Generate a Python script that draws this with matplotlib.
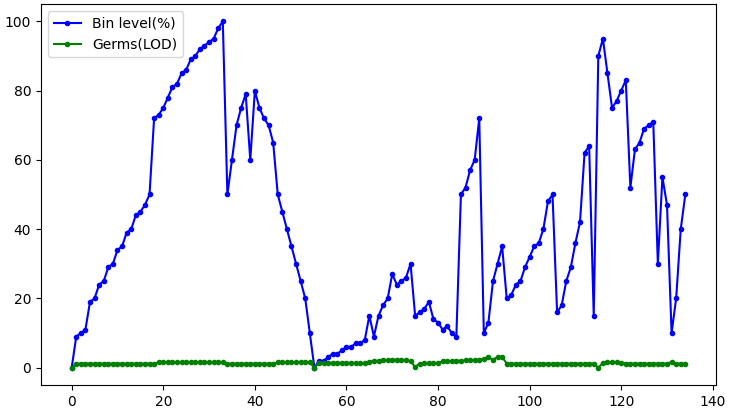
import matplotlib
matplotlib.use("Agg")
import matplotlib.pyplot as plt
import numpy as np

bin_level = [0, 9, 10, 11, 19, 20, 24, 25, 29, 30,
             34, 35, 39, 40, 44, 45, 47, 50, 72, 73,
             75, 78, 81, 82, 85, 86, 89, 90, 92, 93,
             94, 95, 98, 100, 50, 60, 70, 75, 79, 60,
             80, 75, 72, 70, 65, 50, 45, 40, 35, 30,
             25, 20, 10, 0, 2, 2, 3, 4, 4, 5,
             6, 6, 7, 7, 8, 15, 9, 15, 18, 20,
             27, 24, 25, 26, 30, 15, 16, 17, 19, 14,
             13, 11, 12, 10, 9, 50, 52, 57, 60, 72,
             10, 13, 25, 30, 35, 20, 21, 24, 25, 29,
             32, 35, 36, 40, 48, 50, 16, 18, 25, 29,
             36, 42, 62, 64, 15, 90, 95, 85, 75, 77,
             80, 83, 52, 63, 65, 69, 70, 71, 30, 55,
             47, 10, 20, 40, 50]

germs = [0] + [1.2] * 18 + [1.5] * 15 + [1.2] * 11 + [1.5] * 8 + [0] \
    + [1.4] * 9 + [1.3, 1.3, 1.7, 2.0, 2.0, 2.1, 2.1, 2.3, 2.3, 2.3, 2.2, 1.9] \
    + [0.2, 1.2, 1.3, 1.3, 1.3, 1.4, 1.8, 1.9, 1.9, 2.0, 2.0, 2.1, 2.2, 2.2, 2.3, 2.5, 3.0, 2.3, 3.1, 3.1] \
    + [1.2] * 20 + [0.0, 1.4, 1.6, 1.6, 1.5, 1.4] + [1.2] * 10 + [1.6, 1.2, 1.2, 1.2]
germs = germs[:len(bin_level)]
while len(germs) < len(bin_level):
    germs.append(1.2)

x = np.arange(len(bin_level))

fig = plt.figure(figsize=(7.30, 4.09), dpi=100)
ax = fig.add_axes([41/730, 1 - 385/409, (716 - 41)/730, (385 - 4)/409])
ax.plot(x, bin_level, 'b.-', label='Bin level(%)', markersize=6, linewidth=1.5)
ax.plot(x, germs, 'g.-', label='Germs(LOD)', markersize=6, linewidth=1.5)
ax.set_xticks([0, 20, 40, 60, 80, 100, 120, 140])
ax.set_yticks([0, 20, 40, 60, 80, 100])
ax.legend(loc='upper left')
fig.savefig('out.png', dpi=100)
